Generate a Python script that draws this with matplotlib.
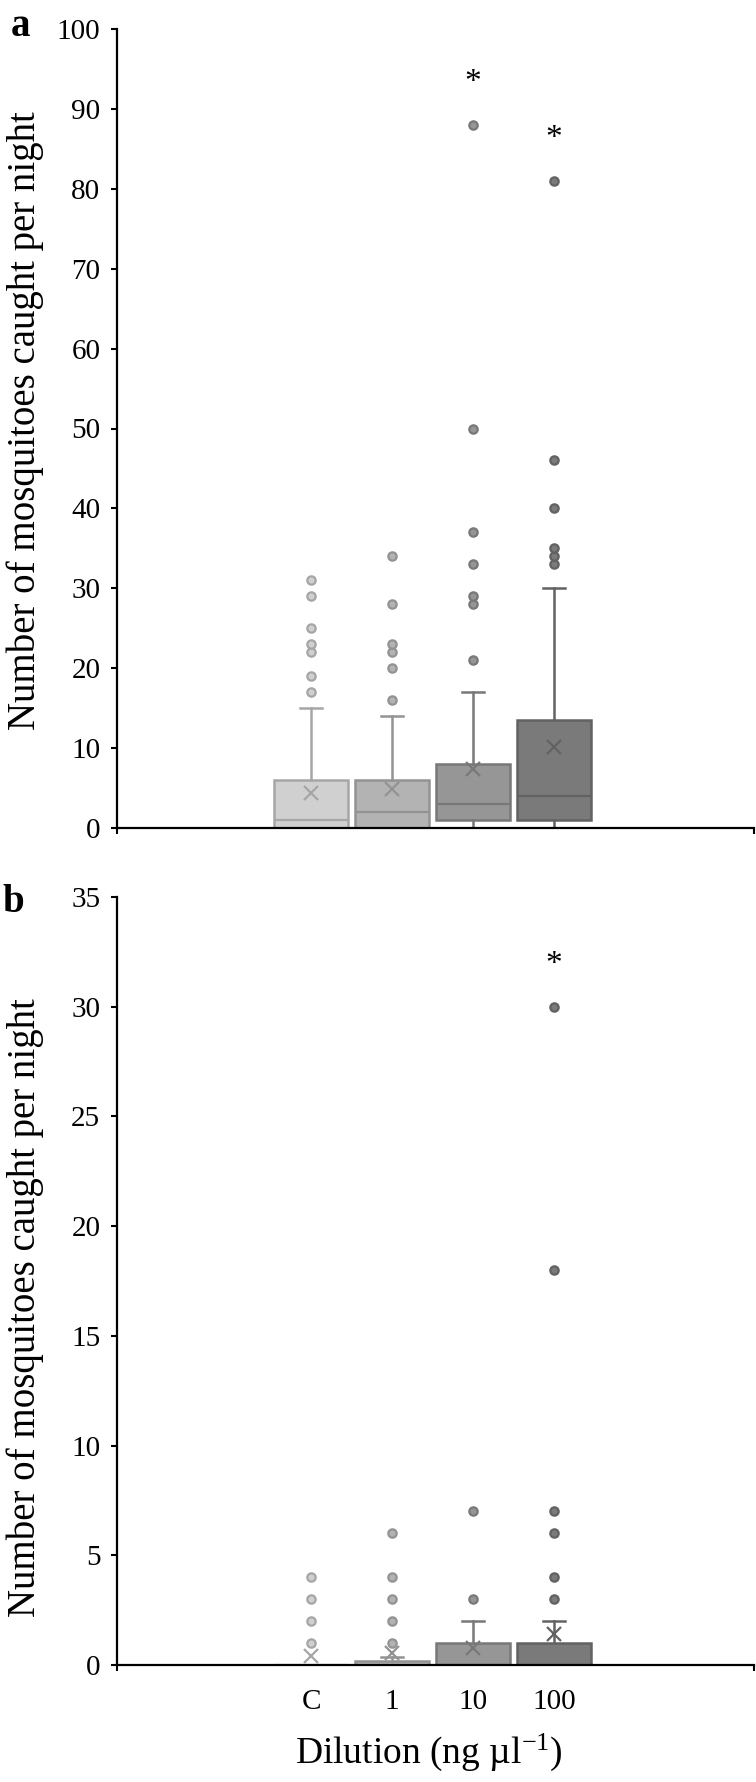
import matplotlib
matplotlib.use("Agg")
import matplotlib.pyplot as plt
import numpy as np

plt.rcParams['font.family'] = ['Liberation Serif', 'DejaVu Serif']
plt.rcParams['mathtext.fontset'] = 'custom'
plt.rcParams['mathtext.rm'] = 'Liberation Serif'
plt.rcParams['mathtext.default'] = 'regular'

categories = ["C", "1", "10", "100"]

# ---------- panel a ----------
a_q1 = [0, 0, 1, 1]
a_med = [1, 2, 3, 4]
a_q3 = [6, 6, 8, 13.5]
a_whislo = [0, 0, 0, 0]
a_whishi = [15, 14, 17, 30]
a_mean = [4.4, 4.9, 7.4, 10.1]
a_fliers = [[17, 19, 22, 23, 25, 29, 31],
            [16, 20, 22, 23, 28, 34],
            [21, 28, 29, 33, 37, 50, 88],
            [33, 34, 35, 40, 46, 81]]
a_signif = ["", "", "*", "*"]

# ---------- panel b ----------
b_q1 = [0, 0, 0, 0]
b_med = [0, 0, 0, 0]
b_q3 = [0, 0.2, 1, 1]
b_whislo = [0, 0, 0, 0]
b_whishi = [0, 0.38, 2, 2]
b_mean = [0.42, 0.55, 0.78, 1.42]
b_fliers = [[1, 2, 3, 4],
            [1, 2, 3, 4, 6],
            [3, 7],
            [3, 4, 6, 7, 18, 30]]
b_signif = ["", "", "", "*"]

fills = ['#d0d0d0', '#b3b3b3', '#969696', '#7a7a7a']
edges = ['#a6a6a6', '#939393', '#787878', '#626262']

W, H = 756, 1782
fig = plt.figure(figsize=(W / 100, H / 100), dpi=100)
ax_a = fig.add_axes([117 / W, 1 - 828 / H, 637 / W, 799 / H])
ax_b = fig.add_axes([117 / W, 1 - 1665 / H, 637 / W, 768 / H])


def draw(ax, q1, med, q3, wlo, whi, mean, fliers, signif, ymax, ystep):
    stats = []
    for i in range(len(categories)):
        stats.append(dict(label=categories[i], q1=q1[i], med=med[i], q3=q3[i],
                          whislo=wlo[i], whishi=whi[i], mean=mean[i],
                          fliers=np.array(fliers[i], dtype=float)))
    art = ax.bxp(stats, positions=range(len(categories)), widths=0.91,
                 capwidths=0.27, patch_artist=True, showmeans=True)
    for i in range(len(categories)):
        art['boxes'][i].set(facecolor=fills[i], edgecolor=edges[i], linewidth=1.8)
        art['medians'][i].set(color=edges[i], linewidth=1.6)
        for ln in art['whiskers'][2 * i:2 * i + 2] + art['caps'][2 * i:2 * i + 2]:
            ln.set(color=edges[i], linewidth=1.8)
        art['fliers'][i].set(marker='o', markerfacecolor=fills[i], markeredgecolor=edges[i],
                             markersize=6, markeredgewidth=1.6)
        art['means'][i].set(marker='x', markeredgecolor=edges[i], markerfacecolor=edges[i],
                            markersize=10, markeredgewidth=1.6)
        if signif[i]:
            ax.annotate(signif[i], xy=(i, max(fliers[i])), xytext=(0, 30),
                        textcoords='offset points', ha='center', va='center', fontsize=24)

    ax.set_xlim(-2.4, 5.47)
    ax.set_ylim(0, ymax)
    ax.set_yticks(np.arange(0, ymax + 0.1, ystep))
    ax.spines['top'].set_visible(False)
    ax.spines['right'].set_visible(False)
    for s in ('left', 'bottom'):
        ax.spines[s].set_linewidth(1.6)
        ax.spines[s].set_zorder(5)
    ax.tick_params(axis='y', direction='out', length=4, width=1.5, labelsize=21, pad=8)
    ax.tick_params(axis='x', length=0, labelsize=21, pad=17)
    ax.set_xticks([-2.4, 5.47], minor=True)
    ax.tick_params(axis='x', which='minor', direction='out', length=4, width=1.5)
    ax.set_ylabel("Number of mosquitoes caught per night", fontsize=28)


draw(ax_a, a_q1, a_med, a_q3, a_whislo, a_whishi, a_mean, a_fliers, a_signif, 100, 10)
draw(ax_b, b_q1, b_med, b_q3, b_whislo, b_whishi, b_mean, b_fliers, b_signif, 35, 5)

ax_a.set_xticks(range(len(categories)))
ax_a.set_xticklabels([])
ax_b.set_xticks(range(len(categories)))
ax_b.set_xticklabels(categories)

ax_a.yaxis.set_label_coords((44 - 117) / 637, 0.51)
ax_b.yaxis.set_label_coords((44 - 117) / 637, 0.465)

ax_b.set_xlabel("Dilution (ng µl$^{-1}$)", fontsize=27)
ax_b.xaxis.set_label_coords(0.49, -(1732 - 1665) / 768)

fig.text(11 / W, 1 - 26 / H, "a", fontsize=28, fontweight='bold', va='center', ha='left')
fig.text(2 / W, 1 - 902 / H, "b", fontsize=28, fontweight='bold', va='center', ha='left')

fig.savefig("out.png", dpi=100)
